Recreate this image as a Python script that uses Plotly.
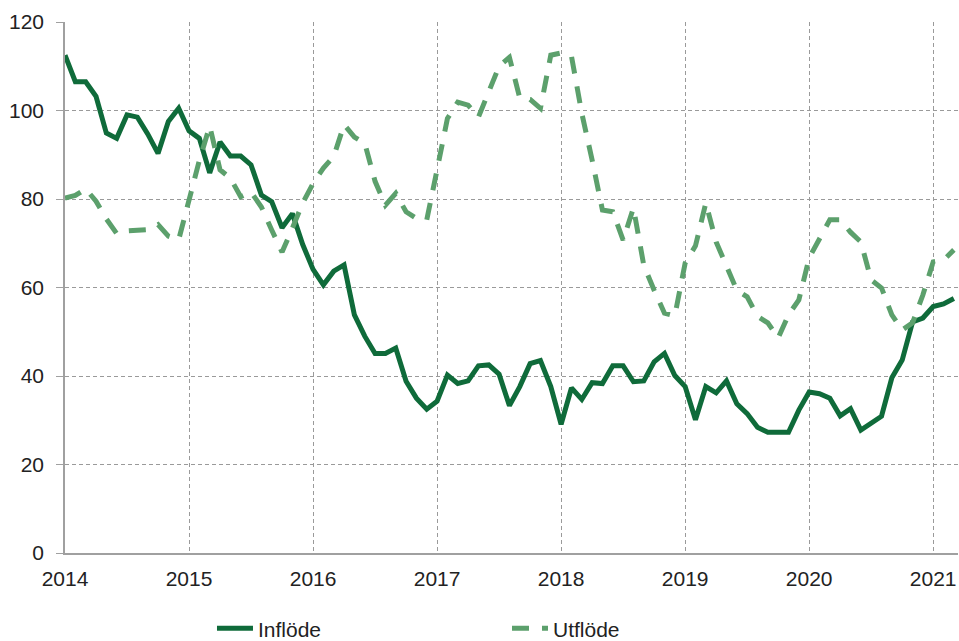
import plotly.graph_objects as go

start_year = 2014
year_ticks = [2014, 2015, 2016, 2017, 2018, 2019, 2020, 2021]
year_labels = ["2014", "2015", "2016", "2017", "2018", "2019", "2020", "2021"]
y_ticks = [0, 20, 40, 60, 80, 100, 120]

inflode = [
    112.5, 106.5, 106.5, 103.2, 94.9, 93.7, 99.0, 98.5, 94.7, 90.3, 97.5, 100.5,
    95.4, 93.7, 85.9, 92.9, 89.7, 89.7, 87.7, 80.9, 79.4, 73.5, 76.7, 69.7,
    64.1, 60.6, 63.7, 65.1, 53.8, 49.0, 45.1, 45.1, 46.3, 38.8, 35.0, 32.5,
    34.3, 40.2, 38.3, 38.9, 42.3, 42.5, 40.4, 33.3, 37.6, 42.8, 43.5, 37.6,
    29.1, 37.3, 34.7, 38.5, 38.3, 42.3, 42.3, 38.7, 38.9, 43.2, 45.1, 40.1,
    37.6, 30.1, 37.6, 36.2, 38.9, 33.7, 31.5, 28.4, 27.3, 27.3, 27.3, 32.3,
    36.4, 36.0, 35.0, 31.0, 32.6, 27.8, 29.3, 30.9, 39.6, 43.6, 52.2, 53.1,
    55.7, 56.3, 57.5,
]

utflode = [
    80.2, 80.8, 82.3, 79.5, 75.5, 72.2, 72.8, 72.9, 73.1, 74.2, 71.6, 70.8,
    80.2, 88.7, 96.5, 86.6, 84.7, 80.5, 81.6, 78.2, 73.0, 68.0, 73.4, 79.1,
    83.5, 87.0, 89.6, 96.8, 94.0, 92.6, 84.0, 78.6, 81.3, 77.1, 75.6, 75.3,
    86.6, 98.2, 101.9, 101.2, 98.5, 104.2, 110.0, 112.0, 102.8, 102.5, 100.5, 112.5,
    113.0, 112.3, 99.4, 88.8, 77.5, 77.1, 70.7, 78.0, 65.0, 59.4, 54.2, 53.6,
    65.5, 69.4, 79.1, 70.3, 65.0, 59.4, 57.9, 53.5, 52.0, 48.6, 53.8, 57.2,
    66.7, 71.2, 75.3, 75.3, 72.5, 70.3, 61.7, 59.9, 53.8, 50.4, 52.0, 58.3,
    65.8, 66.2, 68.5,
]

x_vals = [start_year + i / 12 for i in range(len(inflode))]

font_family = "Liberation Sans, Arial, sans-serif"
text_color = "#222222"
grid_color = "#9a9a9a"

fig = go.Figure()
fig.add_trace(go.Scatter(
    x=x_vals, y=inflode, mode="lines", name="Inflöde",
    line=dict(color="#0f6b3a", width=5),
))
fig.add_trace(go.Scatter(
    x=x_vals, y=utflode, mode="lines", name="Utflöde",
    line=dict(color="#5ca06c", width=5, dash="17px,13px"),
))

fig.update_layout(
    width=959, height=641,
    margin=dict(l=65, r=1, t=22, b=88, autoexpand=False),
    paper_bgcolor="white", plot_bgcolor="white",
    font=dict(family=font_family, size=21, color=text_color),
    showlegend=True,
    legend=dict(
        orientation="h", x=0.1646, xanchor="left", y=-0.104, yanchor="top",
        entrywidth=244, entrywidthmode="pixels",
        font=dict(size=21, color=text_color),
        itemwidth=36,
    ),
)

fig.update_xaxes(
    range=[2014, 2021.2],
    tickmode="array", tickvals=year_ticks, ticktext=year_labels,
    showgrid=True, gridcolor=grid_color, gridwidth=1, griddash="4px,3px",
    showline=True, linecolor="#a0a0a0", linewidth=1.5,
    zeroline=False, ticks="", ticklabelstandoff=6, automargin=False,
)
fig.update_yaxes(
    range=[0, 120],
    tickmode="array", tickvals=y_ticks,
    showgrid=True, gridcolor=grid_color, gridwidth=1, griddash="4px,3px",
    showline=True, linecolor="#a0a0a0", linewidth=1.5,
    zeroline=False, ticks="outside", ticklen=7, tickcolor="#a0a0a0",
    ticklabelstandoff=8, automargin=False,
)

fig.write_html(
    "out.html",
    config={"displayModeBar": False},
    post_script="document.body.style.margin='0';document.body.style.overflow='hidden';",
)
